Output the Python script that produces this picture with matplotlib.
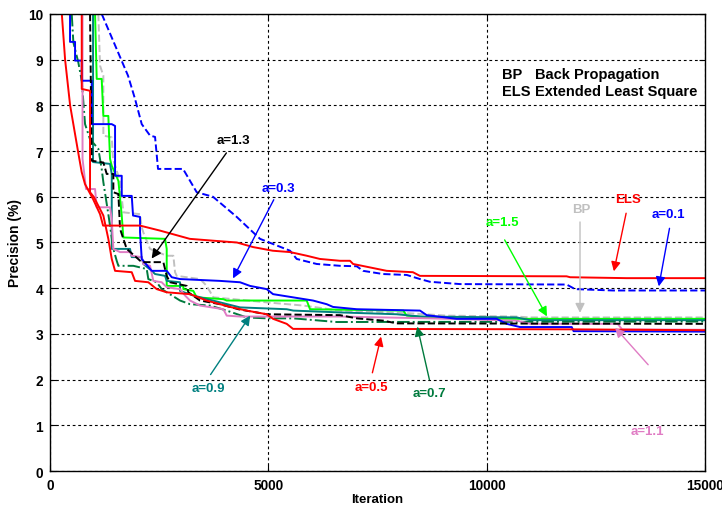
import matplotlib.pyplot as plt

plt.rcParams['font.family'] = ['Liberation Sans', 'DejaVu Sans']
plt.rcParams['font.weight'] = 'bold'

# curves (iteration, precision %)
bp_x = [1106, 1145, 1221, 1221, 1413, 1443, 1600, 1679, 2061, 2100, 2137, 2290, 2672, 2824,
        2863, 2901, 3435, 3588, 3740, 4198, 4962, 5801, 6641, 8091, 9084, 10687, 10992, 15000]
bp_y = [10.0, 8.87, 8.65, 7.34, 7.3, 6.83, 6.35, 5.66, 5.62, 5.33, 5.22, 4.86, 4.71, 4.71,
        4.35, 4.27, 4.2, 4.05, 3.8, 3.76, 3.69, 3.62, 3.51, 3.46, 3.4, 3.38, 3.36, 3.36]

els_x = [270, 345, 460, 640, 725, 800, 985, 1145, 1215, 2060, 2520, 3200, 3730, 4280, 4650,
         5100, 5500, 5880, 6180, 6640, 6870, 6940, 7710, 8310, 8470, 11830, 11910, 13200, 15000]
els_y = [10.0, 9.0, 8.0, 7.0, 6.54, 6.28, 5.95, 5.62, 5.37, 5.37, 5.26, 5.08, 5.04, 5.0, 4.9,
         4.82, 4.79, 4.71, 4.64, 4.6, 4.6, 4.53, 4.38, 4.35, 4.27, 4.26, 4.24, 4.22, 4.22]

a01_x = [1184, 1603, 1786, 1947, 2100, 2290, 2405, 2473, 3046, 3359, 3733, 4275, 4809, 5496,
         5649, 6107, 6641, 7023, 7168, 7626, 8168, 8473, 8702, 9389, 11832, 12023, 12893, 15000]
a01_y = [10.0, 9.06, 8.65, 8.14, 7.59, 7.34, 7.31, 6.61, 6.61, 6.1, 6.0, 5.56, 5.08, 4.82,
         4.64, 4.53, 4.49, 4.48, 4.38, 4.31, 4.29, 4.2, 4.14, 4.09, 4.08, 3.98, 3.95, 3.95]

a03_x = [458, 458, 573, 573, 726, 726, 955, 955, 1413, 1489, 1489, 1642, 1642, 1871, 1901,
         2061, 2061, 2100, 2329, 2672, 2787, 2977, 3893, 4351, 4580, 4962, 5107, 6023, 6336,
         6481, 7023, 8473, 8626, 9313, 10229, 10458, 10763, 11947, 11990, 15000]
a03_y = [10.0, 9.39, 9.39, 8.98, 8.98, 8.54, 8.54, 7.59, 7.59, 7.55, 6.46, 6.46, 6.02, 6.02,
         5.59, 5.56, 5.23, 4.64, 4.38, 4.38, 4.24, 4.2, 4.16, 4.13, 4.05, 3.98, 3.87, 3.73,
         3.65, 3.59, 3.54, 3.51, 3.41, 3.33, 3.33, 3.22, 3.15, 3.15, 3.06, 3.05]

a05_x = [726, 726, 916, 916, 1000, 1221, 1335, 1413, 1489, 1871, 1947, 2251, 2443, 2672, 3206,
         3588, 4122, 4504, 4962, 5107, 5420, 5565, 6641, 11900, 15000]
a05_y = [10.0, 8.36, 8.32, 6.1, 6.0, 5.59, 5.08, 4.64, 4.38, 4.35, 4.16, 4.13, 3.98, 3.91,
         3.87, 3.73, 3.59, 3.51, 3.43, 3.33, 3.22, 3.11, 3.11, 3.1, 3.08]

a07_x = [497, 534, 648, 726, 802, 916, 1106, 1184, 1221, 1335, 1450, 1527, 1565, 1908, 2214,
         2251, 2443, 2558, 2977, 3206, 3664, 4046, 4504, 4962, 5572, 6565, 15000]
a07_y = [10.0, 9.38, 8.94, 8.54, 7.59, 7.26, 7.05, 6.6, 6.32, 5.62, 4.86, 4.6, 4.49, 4.49,
         4.42, 4.2, 4.13, 3.98, 3.73, 3.65, 3.62, 3.51, 3.36, 3.34, 3.34, 3.26, 3.27]

a09_x = [985, 985, 1374, 1413, 1413, 1832, 1871, 2100, 2137, 2329, 2405, 2634, 2672, 2977,
         2977, 3282, 3893, 4351, 5420, 5572, 6641, 7939, 8473, 10687, 10992, 15000]
a09_y = [10.0, 6.76, 6.72, 6.5, 4.86, 4.86, 4.68, 4.68, 4.53, 4.38, 4.31, 4.27, 4.16, 4.13,
         3.94, 3.84, 3.69, 3.58, 3.54, 3.51, 3.47, 3.43, 3.38, 3.36, 3.3, 3.3]

a11_x = [744, 744, 824, 1031, 1069, 1374, 1413, 1450, 1603, 1832, 1871, 2100, 2137, 2290,
         2366, 2558, 2672, 2977, 3092, 3206, 3435, 3969, 4046, 4351, 6641, 8702, 10687,
         10992, 13000, 13100, 15000]
a11_y = [10.0, 6.83, 6.17, 6.17, 5.77, 5.77, 5.51, 4.86, 4.79, 4.79, 4.71, 4.68, 4.53, 4.49,
         4.16, 4.13, 4.02, 3.98, 3.84, 3.73, 3.62, 3.54, 3.4, 3.38, 3.38, 3.34, 3.29,
         3.22, 3.22, 3.1, 3.09]

a13_x = [916, 955, 1221, 1298, 1450, 1450, 1565, 1603, 1679, 1756, 2100, 2595, 2672, 2748,
         3130, 3168, 3435, 3893, 4312, 4962, 6641, 7023, 7633, 7939, 15000]
a13_y = [10.0, 6.79, 6.75, 6.5, 6.5, 6.1, 6.06, 5.3, 5.08, 4.86, 4.57, 4.57, 4.27, 4.13,
         4.05, 3.91, 3.73, 3.65, 3.54, 3.43, 3.41, 3.34, 3.29, 3.23, 3.22]

a15_x = [1031, 1069, 1183, 1221, 1335, 1374, 1413, 1565, 1642, 1679, 2634, 2672, 2672, 3053,
         3053, 3282, 3359, 3969, 4046, 5878, 5954, 8091, 8168, 8702, 9618, 15000]
a15_y = [10.0, 8.58, 8.58, 7.77, 7.77, 6.83, 6.68, 6.35, 5.59, 5.11, 5.08, 4.86, 4.05, 4.05,
         3.98, 3.94, 3.8, 3.76, 3.73, 3.73, 3.54, 3.51, 3.4, 3.36, 3.33, 3.33]

# labels: text, text position, arrow tail, arrow tip, colour
notes = [
    ('a=1.3', (4190, 7.24), (4076, 7.01), (2290, 4.6), 'black'),
    ('a=0.3', (5220, 6.19), (5153, 5.99), (4161, 4.16), '#0000ff'),
    ('a=0.9', (3620, 1.82), (3641, 2.06), (4619, 3.45), '#008080'),
    ('a=0.5', (7350, 1.84), (7367, 2.09), (7596, 3.0), '#ff0000'),
    ('a=0.7', (8700, 1.71), (8702, 1.94), (8397, 3.22), '#007a3d'),
    ('a=1.5', (10350, 5.45), (10380, 5.11), (11411, 3.33), '#00ff00'),
    ('BP', (12160, 5.73), (12137, 5.51), (12137, 3.4), '#c0c0c0'),
    ('ELS', (13236, 5.95), (13206, 5.7), (12899, 4.31), '#ff0000'),
    ('a=0.1', (14150, 5.62), (14198, 5.37), (13930, 3.98), '#0000ff'),
    ('a=1.1', (13670, 0.88), (13740, 2.28), (12899, 3.18), '#e07cc4'),
]

fig = plt.figure(figsize=(7.22, 5.1), dpi=100)
ax = fig.add_axes([0.0693, 0.0745, 0.9072, 0.8961])

lw = 1.4
ax.plot(bp_x, bp_y, color='#c0c0c0', ls='--', lw=lw)
ax.plot(a15_x, a15_y, color='#00ff00', lw=lw)
ax.plot(a09_x, a09_y, color='#008080', lw=lw)
ax.plot(a07_x, a07_y, color='#007a3d', ls='-.', lw=lw)
ax.plot(a11_x, a11_y, color='#e07cc4', lw=lw)
ax.plot(a03_x, a03_y, color='#0000ff', lw=lw)
ax.plot(a13_x, a13_y, color='black', ls='--', lw=lw)
ax.plot(a05_x, a05_y, color='#ff0000', lw=lw)
ax.plot(a01_x, a01_y, color='#0000ff', ls='--', lw=lw)
ax.plot(els_x, els_y, color='#ff0000', lw=lw)

for txt, pos, tail, tip, c in notes:
    ax.annotate('', xy=tip, xytext=tail,
                arrowprops=dict(arrowstyle='-|>', color=c, lw=1.0, mutation_scale=14))
    ax.text(pos[0], pos[1], txt, color=c, fontsize=9.5, fontweight='bold',
            ha='center', va='center')

# abbreviations box
ax.text(10350, 8.69, 'BP', fontsize=10.5, fontweight='bold', va='center')
ax.text(11100, 8.69, 'Back Propagation', fontsize=10.5, fontweight='bold', va='center')
ax.text(10350, 8.32, 'ELS', fontsize=10.5, fontweight='bold', va='center')
ax.text(11100, 8.32, 'Extended Least Square', fontsize=10.5, fontweight='bold', va='center')

ax.set_xlim(0, 15000)
ax.set_ylim(0, 10)
ax.set_xticks([0, 5000, 10000, 15000])
ax.set_yticks(range(0, 11))
ax.grid(True, color='black', ls=(0, (2.5, 2.5)), lw=0.8)
ax.tick_params(direction='in', top=True, right=True, length=4, labelsize=9.8, pad=5)
for lab in ax.get_xticklabels() + ax.get_yticklabels():
    lab.set_fontweight('bold')
for s in ax.spines.values():
    s.set_linewidth(1.0)
ax.set_xlabel('Iteration', fontsize=9.5, fontweight='bold', labelpad=1)
ax.set_ylabel('Precision (%)', fontsize=10, fontweight='bold', labelpad=4)

fig.savefig('out.png', dpi=100)
